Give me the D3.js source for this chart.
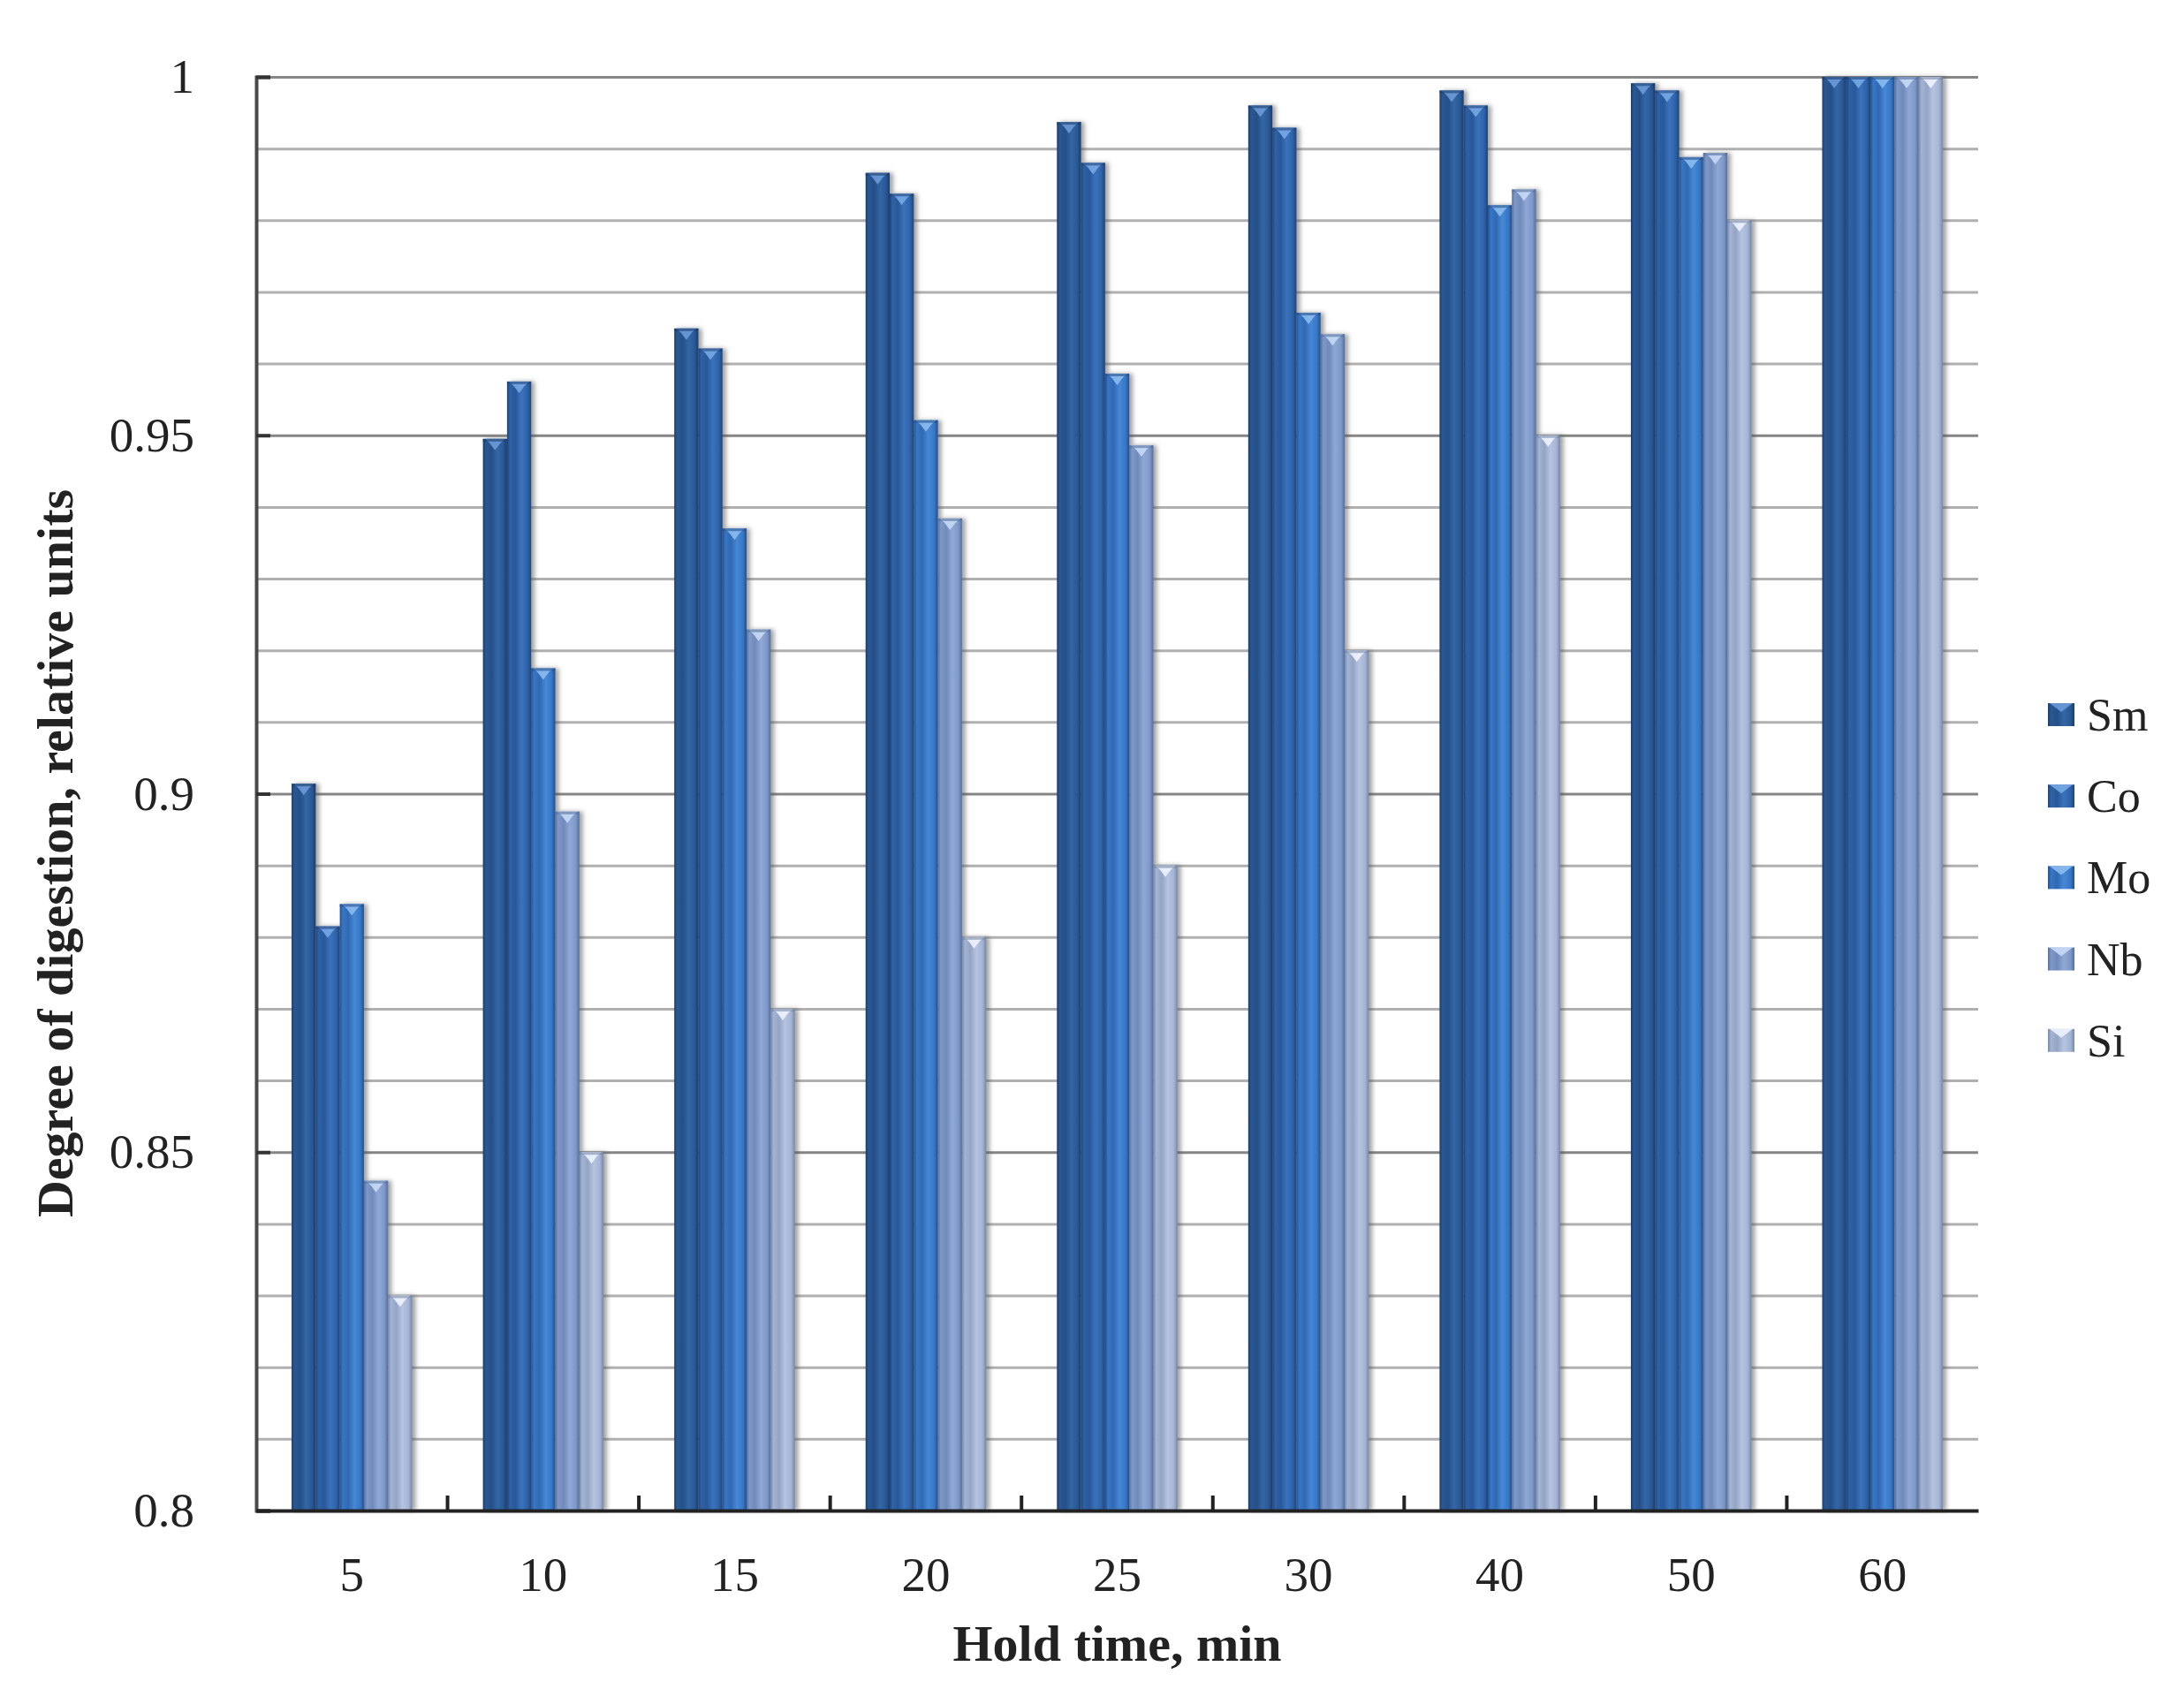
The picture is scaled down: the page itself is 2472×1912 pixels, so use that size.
<!DOCTYPE html>
<html>
<head>
<meta charset="utf-8">
<script src="https://cdnjs.cloudflare.com/ajax/libs/d3/7.8.5/d3.min.js"></script>
<style>
  body { margin: 0; background: #fff; }
  svg text { font-family: "Liberation Serif", "DejaVu Serif", serif; fill: #222; }
</style>
</head>
<body>
<div id="chart"></div>
<script>
// hold time categories (min)
const holdTimes = ['5', '10', '15', '20', '25', '30', '40', '50', '60'];
// elements, in legend order
const elements = ['Sm', 'Co', 'Mo', 'Nb', 'Si'];

// degree of digestion per element
const smValues = [0.9014, 0.9495, 0.9649, 0.9866, 0.9937, 0.9960, 0.9981, 0.9991, 1.0];
const coValues = [0.8815, 0.9575, 0.9621, 0.9837, 0.9880, 0.9929, 0.9960, 0.9981, 1.0];
const moValues = [0.8846, 0.9175, 0.9370, 0.9521, 0.9586, 0.9671, 0.9821, 0.9888, 1.0];
const nbValues = [0.8460, 0.8975, 0.9229, 0.9384, 0.9486, 0.9641, 0.9843, 0.9894, 1.0];
const siValues = [0.8300, 0.8500, 0.8700, 0.8800, 0.8900, 0.9200, 0.9500, 0.9800, 1.0];

const yTickValues = [0.8, 0.85, 0.9, 0.95, 1];

const seriesValues = { Sm: smValues, Co: coValues, Mo: moValues, Nb: nbValues, Si: siValues };

// colours: [edge, base, highlight, cap]
const palette = {
  Sm: ['#1b3d6c', '#2a5894', '#3466a6', '#6d9ad8'],
  Co: ['#1f4579', '#2e62a8', '#3a73bd', '#78a8e6'],
  Mo: ['#24508e', '#3777c6', '#4688d6', '#8cbcf0'],
  Nb: ['#55709e', '#7e98c8', '#8fa8d6', '#c6daf6'],
  Si: ['#7787a6', '#a4b4d4', '#b6c4e0', '#eef4ff']
};

const W = 2472, H = 1912;
const margin = { top: 87, right: 233, bottom: 202, left: 290 };
const width = W - margin.left - margin.right;
const height = H - margin.top - margin.bottom;

const svg = d3.select('#chart').append('svg')
  .attr('width', W).attr('height', H);

svg.append('rect').attr('width', W).attr('height', H).attr('fill', '#fff');

const defs = svg.append('defs');

elements.forEach(el => {
  const [edge, base, hi] = palette[el];
  const g = defs.append('linearGradient')
    .attr('id', `grad-${el}`)
    .attr('x1', '0%').attr('x2', '100%').attr('y1', '0%').attr('y2', '0%');
  [[0, edge], [0.12, base], [0.35, d3.interpolateRgb(base, edge)(0.35)], [0.6, hi], [0.85, base], [1, edge]]
    .forEach(([o, c]) => g.append('stop').attr('offset', o).attr('stop-color', c));
});

const shadow = defs.append('filter').attr('id', 'shadow')
  .attr('x', '-20%').attr('y', '-5%').attr('width', '160%').attr('height', '110%');
shadow.append('feDropShadow')
  .attr('dx', 4).attr('dy', 0).attr('stdDeviation', 2.5)
  .attr('flood-color', '#555').attr('flood-opacity', 0.55);

// scales
const x0 = d3.scaleBand().domain(holdTimes).range([0, width]).padding(0);
const groupPad = x0.bandwidth() * 0.185;
const x1 = d3.scaleBand().domain(elements).range([groupPad, x0.bandwidth() - groupPad]).padding(0);
const y = d3.scaleLinear().domain([0.8, 1]).range([height, 0]);

const $g = svg.append('g').attr('transform', `translate(${margin.left}, ${margin.top})`);

// gridlines every 0.01
const minorTicks = d3.range(0, 21).map(i => +(0.8 + i * 0.01).toFixed(2));
const $grid = $g.append('g').attr('class', 'grid')
  .call(d3.axisLeft(y).tickValues(minorTicks).tickSize(-width).tickFormat(''));
$grid.select('.domain').remove();
$grid.selectAll('.tick line')
  .attr('stroke', d => yTickValues.some(v => Math.abs(v - d) < 1e-6) ? '#858585' : '#b0b0b0')
  .attr('stroke-width', 3);

// bars
const data = holdTimes.map((t, i) => ({
  time: t,
  values: elements.map(el => ({ el, value: seriesValues[el][i] }))
}));

const $groups = $g.append('g').attr('class', 'bars')
  .selectAll('g')
  .data(data)
  .join('g')
  .attr('transform', d => `translate(${x0(d.time)}, 0)`);

const bw = x1.bandwidth();

const $bar = $groups.selectAll('g.bar')
  .data(d => d.values)
  .join('g')
  .attr('class', 'bar');

$bar.append('rect')
  .attr('x', d => x1(d.el))
  .attr('y', d => y(d.value))
  .attr('width', bw)
  .attr('height', d => height - y(d.value))
  .attr('fill', d => `url(#grad-${d.el})`)
  .attr('filter', 'url(#shadow)');

// bevelled cap at the top of each bar
$bar.append('path')
  .attr('d', d => {
    const xl = x1(d.el), yt = y(d.value);
    return `M${xl + 2},${yt} L${xl + bw - 2},${yt} L${xl + bw * 0.72},${yt + 5} ` +
      `L${xl + bw * 0.5},${yt + 13} L${xl + bw * 0.28},${yt + 5} Z`;
  })
  .attr('fill', d => palette[d.el][3])
  .attr('opacity', 0.9);

$bar.append('rect')
  .attr('x', d => x1(d.el))
  .attr('y', d => y(d.value))
  .attr('width', bw)
  .attr('height', 3)
  .attr('fill', d => palette[d.el][0])
  .attr('opacity', 0.6);

// y axis
const $yAxis = $g.append('g').attr('class', 'y-axis')
  .call(d3.axisLeft(y).tickValues(yTickValues).tickSize(-16).tickPadding(70)
    .tickFormat(d => String(+d.toFixed(2))));
$yAxis.select('.domain').attr('stroke', '#4a4a4a').attr('stroke-width', 4);
$yAxis.selectAll('.tick line').attr('stroke', '#333').attr('stroke-width', 4);
$yAxis.selectAll('.tick text')
  .attr('font-size', 55).attr('fill', '#2a2a2a')
  .attr('font-family', '"Liberation Serif", serif');

// x axis
const $xAxis = $g.append('g').attr('class', 'x-axis')
  .attr('transform', `translate(0, ${height})`)
  .call(d3.axisBottom(x0).tickSize(0).tickPadding(52));
$xAxis.select('.domain').attr('stroke', '#222').attr('stroke-width', 4);
$xAxis.selectAll('.tick text')
  .attr('font-size', 55).attr('fill', '#2a2a2a')
  .attr('font-family', '"Liberation Serif", serif');

// category separators pointing up
$g.append('g').attr('class', 'x-sep')
  .selectAll('line')
  .data(holdTimes.slice(1))
  .join('line')
  .attr('x1', d => x0(d)).attr('x2', d => x0(d))
  .attr('y1', height).attr('y2', height - 17)
  .attr('stroke', '#222').attr('stroke-width', 4);

// axis titles
svg.append('text')
  .attr('x', margin.left + width / 2)
  .attr('y', 1880)
  .attr('text-anchor', 'middle')
  .attr('font-size', 58)
  .attr('font-weight', 'bold')
  .attr('fill', '#111')
  .text('Hold time, min');

svg.append('text')
  .attr('transform', `translate(82, 966) rotate(-90)`)
  .attr('text-anchor', 'middle')
  .attr('font-size', 58)
  .attr('font-weight', 'bold')
  .attr('fill', '#111')
  .text('Degree of digestion, relative units');

// legend
const $legend = svg.append('g').attr('class', 'legend')
  .attr('transform', 'translate(2318, 809)');

const $item = $legend.selectAll('g')
  .data(elements)
  .join('g')
  .attr('transform', (d, i) => `translate(0, ${i * 92.2})`);

$item.append('rect')
  .attr('x', 0).attr('y', -13)
  .attr('width', 30).attr('height', 26)
  .attr('fill', d => `url(#grad-${d})`);

$item.append('path')
  .attr('d', 'M2,-13 L28,-13 L15,-3 Z')
  .attr('fill', d => palette[d][3])
  .attr('opacity', 0.9);

$item.append('text')
  .attr('x', 44).attr('y', 18)
  .attr('font-size', 52)
  .attr('fill', '#222')
  .text(d => d);
</script>
</body>
</html>
